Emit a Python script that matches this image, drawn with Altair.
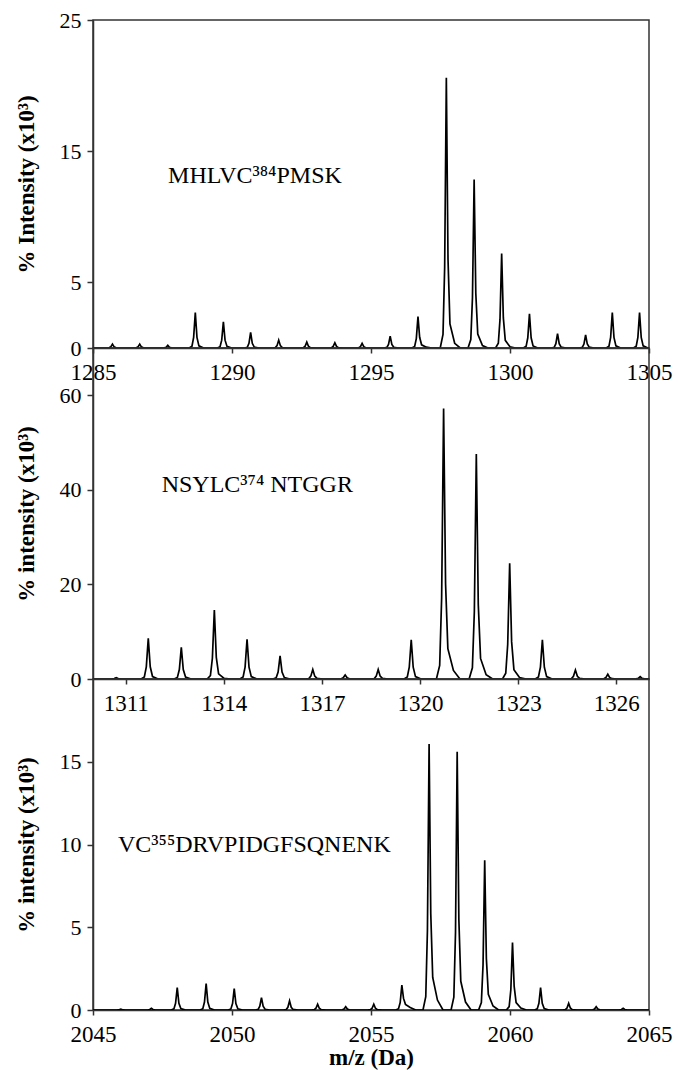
import altair as alt
import pandas as pd

# ---- Panel 1: MHLVC384PMSK ----
p1_mz = [1285.70, 1286.68, 1287.69, 1288.68, 1289.69, 1290.67, 1291.68, 1292.69,
         1293.70, 1294.68, 1295.69, 1296.69, 1297.71, 1298.71, 1299.70, 1300.70,
         1301.71, 1302.72, 1303.68, 1304.66]
p1_int = [0.3, 0.3, 0.2, 2.7, 2.0, 1.2, 0.6, 0.45, 0.4, 0.35, 0.9, 2.4, 20.6, 12.85,
          7.2, 2.6, 1.1, 1.0, 2.7, 2.7]
p1_tail = [0, 0, 0, 0, 0, 0, 0, 0, 0, 0, 0, 0.1, 0.6, 0.3, 0.15, 0, 0, 0, 0, 0]

# ---- Panel 2: NSYLC374 NTGGR ----
p2_mz = [1310.71, 1311.69, 1312.70, 1313.71, 1314.71, 1315.72, 1316.72, 1317.71,
         1318.72, 1319.73, 1320.72, 1321.72, 1322.74, 1323.74, 1324.75, 1325.74, 1326.73]
p2_int = [0.3, 8.6, 6.7, 14.6, 8.4, 4.9, 2.0, 0.85, 2.0, 8.3, 57.2, 47.6, 24.5, 8.3,
          1.9, 1.0, 0.5]
p2_tail = [0, 0, 0, 0.2, 0, 0, 0, 0, 0, 0, 3.0, 1.5, 0.5, 0, 0, 0, 0]

# ---- Panel 3: VC355DRVPIDGFSQNENK ----
p3_mz = [2046.0, 2047.1, 2048.03, 2049.07, 2050.08, 2051.06, 2052.07, 2053.08, 2054.09,
         2055.10, 2056.11, 2057.09, 2058.10, 2059.09, 2060.09, 2061.10, 2062.11,
         2063.10, 2064.07]
p3_int = [0.05, 0.1, 1.35, 1.6, 1.3, 0.75, 0.55, 0.35, 0.2, 0.35, 1.5, 16.07, 15.6,
          9.04, 4.08, 1.35, 0.4, 0.2, 0.1]
p3_tail = [0, 0, 0, 0, 0, 0, 0, 0, 0, 0, 0.25, 1.0, 0.8, 0.4, 0.2, 0, 0, 0, 0]

panels = [
    dict(mz=p1_mz, inten=p1_int, tail=p1_tail, xdom=[1285, 1305], xticks=[1285, 1290, 1295, 1300, 1305],
         ydom=[0, 25], yticks=[0, 5, 15, 25], ytitle="% Intensity (x10³)", xtitle=None,
         label="MHLVC³⁸⁴PMSK", lx=1287.7, ly=13.1, h=328),
    dict(mz=p2_mz, inten=p2_int, tail=p2_tail, xdom=[1310, 1327], xticks=[1311, 1314, 1317, 1320, 1323, 1326],
         ydom=[0, 70], yticks=[0, 20, 40, 60], ytitle="% intensity (x10³)", xtitle=None,
         label="NSYLC³⁷⁴ NTGGR", lx=1312.1, ly=41, h=331),
    dict(mz=p3_mz, inten=p3_int, tail=p3_tail, xdom=[2045, 2065], xticks=[2045, 2050, 2055, 2060, 2065],
         ydom=[0, 20], yticks=[0, 5, 10, 15], ytitle="% intensity (x10³)", xtitle="m/z (Da)",
         label="VC³⁵⁵DRVPIDGFSQNENK", lx=2045.9, ly=10, h=331),
]

# peak shape template (offset in Da, fraction of height, fraction of tail level)
shape = [(-0.22, 0, 0), (-0.12, 0.05, 0), (-0.06, 0.3, 0), (0.0, 1.0, 0),
         (0.06, 0.3, 1.0), (0.13, 0.06, 1.0), (0.3, 0, 0.6), (0.5, 0, 0)]

FONT = "Liberation Serif"
charts = []
for p in panels:
    rows = [(p["xdom"][0], 0.0)]
    for c, hgt, t in zip(p["mz"], p["inten"], p["tail"]):
        for dx, fh, ft in shape:
            rows.append((c + dx, fh * hgt + ft * t))
    rows.append((p["xdom"][1], 0.0))
    df = pd.DataFrame(rows, columns=["mz", "intensity"])
    df["order"] = range(len(df))

    xax = dict(values=p["xticks"], format="d", labelFlush=False, labelOverlap=False,
               tickSize=5, labelPadding=8, labelFontSize=23)
    if p["xtitle"]:
        xax["title"] = p["xtitle"]
        xax["titlePadding"] = 0
    else:
        xax["title"] = None
    x = alt.X("mz:Q", scale=alt.Scale(domain=p["xdom"], nice=False, zero=False),
              axis=alt.Axis(**xax))
    y = alt.Y("intensity:Q", scale=alt.Scale(domain=p["ydom"], nice=False),
              axis=alt.Axis(values=p["yticks"], format="d", title=p["ytitle"], tickSize=6,
                            labelPadding=6, labelFontSize=22, titlePadding=21))
    line = alt.Chart(df).mark_line(color="black", strokeWidth=1.7, clip=True).encode(
        x=x, y=y, order="order:Q")
    lab = pd.DataFrame({"mz": [p["lx"]], "intensity": [p["ly"]], "t": [p["label"]]})
    text = alt.Chart(lab).mark_text(align="left", baseline="middle", font=FONT,
                                    fontSize=24, color="black").encode(
        x="mz:Q", y="intensity:Q", text="t:N")
    charts.append((line + text).properties(width=556, height=p["h"]))

chart = alt.vconcat(*charts, spacing=0, bounds="flush").properties(
    padding={"left": 14, "top": 8, "right": 4, "bottom": 4},
    background="white"
).configure_view(stroke="#333", strokeWidth=1.5).configure_axis(
    grid=False, domainColor="#333", domainWidth=1.5, tickColor="#333", tickWidth=1.5,
    labelFont=FONT, labelColor="black",
    titleFont=FONT, titleFontSize=23, titleFontWeight="bold", titleColor="black"
)

chart.save("out.html", embed_options={"renderer": "svg", "actions": False})
